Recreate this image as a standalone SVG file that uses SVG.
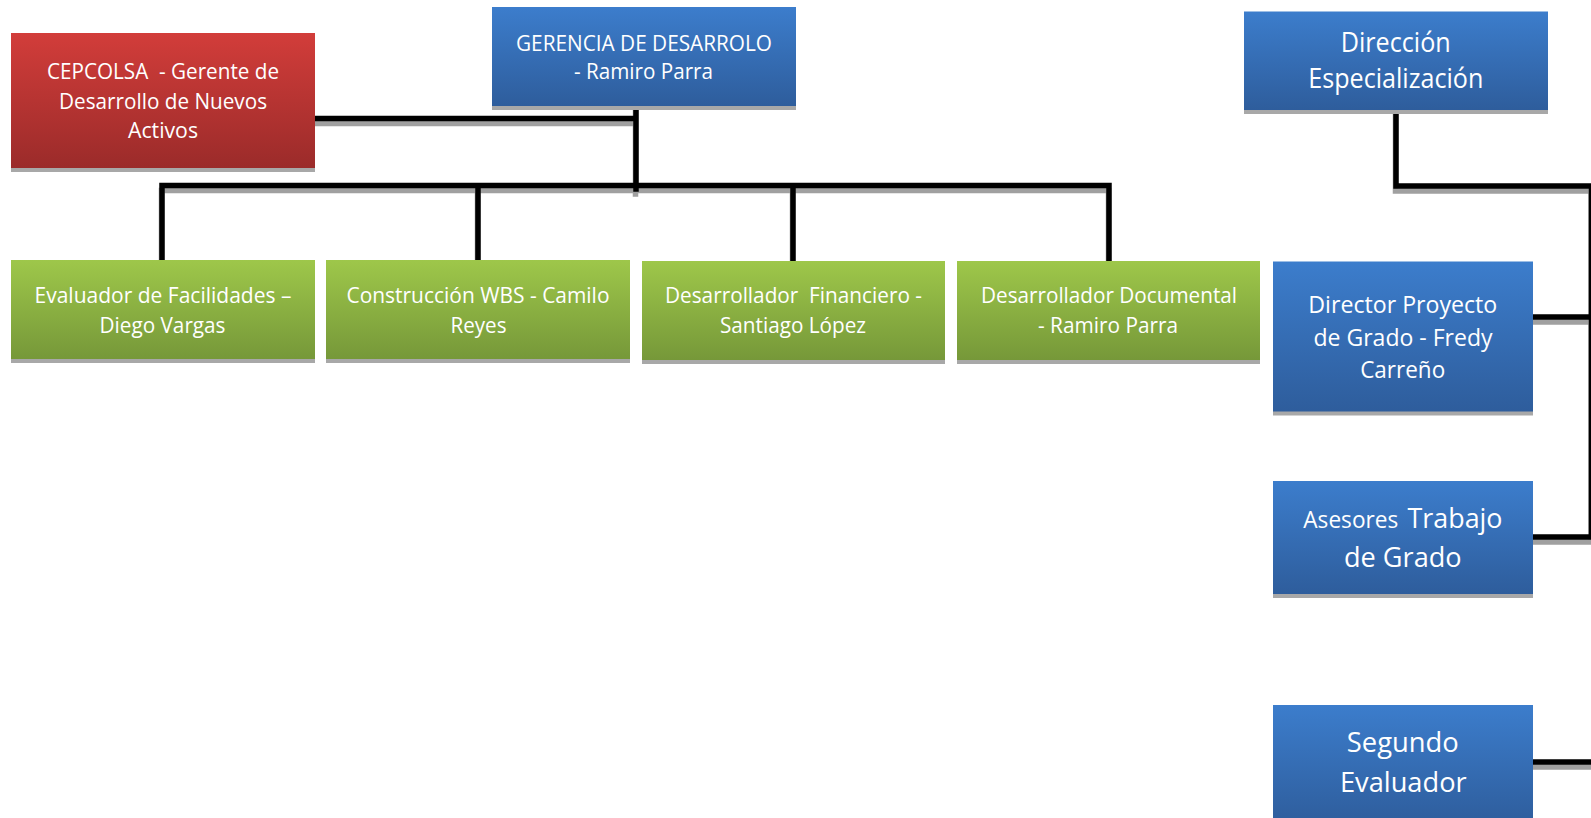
<svg xmlns="http://www.w3.org/2000/svg" width="1591" height="818" viewBox="0 0 1591 818">
<defs>
<linearGradient id="gBlue" x1="0" y1="0" x2="0" y2="1"><stop offset="0" stop-color="#3C7DCC"/><stop offset="1" stop-color="#2E5D9C"/></linearGradient>
<linearGradient id="gRed" x1="0" y1="0" x2="0" y2="1"><stop offset="0" stop-color="#D23D3A"/><stop offset="1" stop-color="#9B2B2A"/></linearGradient>
<linearGradient id="gGreen" x1="0" y1="0" x2="0" y2="1"><stop offset="0" stop-color="#9EC74A"/><stop offset="1" stop-color="#769839"/></linearGradient>
</defs>
<style>
.sh{fill:#A8A8A8}
.blue{fill:url(#gBlue)}
.red{fill:url(#gRed)}
.green{fill:url(#gGreen)}
text{font-family:"Open Sans","DejaVu Sans",sans-serif;fill:#FFFFFF;text-anchor:middle}
.s21{font-size:21px}
.s23{font-size:23px}
.s26{font-size:26.5px}
.ln{fill:none;stroke:#000;stroke-width:5.5;stroke-linecap:square}
.lsh{fill:none;stroke:#A0A0A0;stroke-width:5.5;stroke-linecap:square}
</style>
<rect width="1591" height="818" fill="#FFFFFF"/>
<g id="connectors">
<g transform="translate(-0.5,5)">
<path class="lsh" d="M316 118.5H636M636 107V189M162 185.5H1109M162 185.5V257M478 185.5V257M793 185.5V258M1109 185.5V258"/>
<path class="lsh" d="M1396 111V186H1593M1591.5 186V537M1534 317H1593M1534 537H1593M1534 762H1593"/>
</g>
<path class="ln" d="M316 118.5H636M636 107V189M162 185.5H1109M162 185.5V258M478 185.5V258M793 185.5V259M1109 185.5V259"/>
<path class="ln" d="M1396 111V186H1593M1591.5 186V537M1534 317H1593M1534 537H1593M1534 762H1593"/>
</g>
<g id="cepcolsa">
<rect class="sh" x="11" y="37" width="304" height="135"/>
<rect class="red" x="11" y="33" width="304" height="135"/>
<text class="s21" x="163" y="79" textLength="232" lengthAdjust="spacingAndGlyphs" xml:space="preserve">CEPCOLSA  - Gerente de</text>
<text class="s21" x="163" y="108.5" textLength="208" lengthAdjust="spacingAndGlyphs">Desarrollo de Nuevos</text>
<text class="s21" x="163" y="137.5" textLength="70" lengthAdjust="spacingAndGlyphs">Activos</text>
</g>
<g id="gerencia">
<rect class="sh" x="492" y="11" width="304" height="99"/>
<rect class="blue" x="492" y="7" width="304" height="99"/>
<text class="s21" x="644" y="50.5" textLength="256" lengthAdjust="spacingAndGlyphs">GERENCIA DE DESARROLO</text>
<text class="s21" x="643.5" y="79" textLength="139" lengthAdjust="spacingAndGlyphs">- Ramiro Parra</text>
</g>
<g id="evaluador">
<rect class="sh" x="11" y="264" width="304" height="99"/>
<rect class="green" x="11" y="260" width="304" height="99"/>
<text class="s21" x="163" y="302.5" textLength="257" lengthAdjust="spacingAndGlyphs">Evaluador de Facilidades –</text>
<text class="s21" x="162.5" y="332.5" textLength="126" lengthAdjust="spacingAndGlyphs">Diego Vargas</text>
</g>
<g id="construccion">
<rect class="sh" x="326" y="264" width="304" height="99"/>
<rect class="green" x="326" y="260" width="304" height="99"/>
<text class="s21" x="478" y="302.5" textLength="263" lengthAdjust="spacingAndGlyphs">Construcción WBS - Camilo</text>
<text class="s21" x="478.5" y="332.5" textLength="56" lengthAdjust="spacingAndGlyphs">Reyes</text>
</g>
<g id="financiero">
<rect class="sh" x="642" y="265" width="303" height="99"/>
<rect class="green" x="642" y="261" width="303" height="99"/>
<text class="s21" x="793.5" y="303" textLength="257" lengthAdjust="spacingAndGlyphs" xml:space="preserve">Desarrollador  Financiero -</text>
<text class="s21" x="793" y="333" textLength="146" lengthAdjust="spacingAndGlyphs">Santiago López</text>
</g>
<g id="documental">
<rect class="sh" x="957" y="265" width="303" height="99"/>
<rect class="green" x="957" y="261" width="303" height="99"/>
<text class="s21" x="1109" y="303" textLength="256" lengthAdjust="spacingAndGlyphs">Desarrollador Documental</text>
<text class="s21" x="1108" y="333" textLength="140" lengthAdjust="spacingAndGlyphs">- Ramiro Parra</text>
</g>
<g id="direccion">
<rect class="sh" x="1244" y="15.5" width="304" height="98.5"/>
<rect class="blue" x="1244" y="11.5" width="304" height="98.5"/>
<text class="s26" x="1395.7" y="52.3" textLength="110" lengthAdjust="spacingAndGlyphs">Dirección</text>
<text class="s26" x="1395.8" y="88.3" textLength="175" lengthAdjust="spacingAndGlyphs">Especialización</text>
</g>
<g id="director">
<rect class="sh" x="1273" y="265.5" width="260" height="150"/>
<rect class="blue" x="1273" y="261.5" width="260" height="150"/>
<text class="s23" x="1402.8" y="313.3" textLength="189" lengthAdjust="spacingAndGlyphs">Director Proyecto</text>
<text class="s23" x="1403" y="345.7" textLength="179" lengthAdjust="spacingAndGlyphs">de Grado - Fredy</text>
<text class="s23" x="1402.7" y="377.7" textLength="85" lengthAdjust="spacingAndGlyphs">Carreño</text>
</g>
<g id="asesores">
<rect class="sh" x="1273" y="485" width="260" height="113"/>
<rect class="blue" x="1273" y="481" width="260" height="113"/>
<text class="s23" x="1350.8" y="528.3" textLength="95" lengthAdjust="spacingAndGlyphs">Asesores</text>
<text class="s26" x="1455" y="528.3" textLength="95" lengthAdjust="spacingAndGlyphs">Trabajo</text>
<text class="s26" x="1402.8" y="567.3" textLength="117.7" lengthAdjust="spacingAndGlyphs">de Grado</text>
</g>
<g id="segundo">
<rect class="sh" x="1273" y="709" width="260" height="120"/>
<rect class="blue" x="1273" y="705" width="260" height="120"/>
<text class="s26" x="1402.8" y="752.3" textLength="112" lengthAdjust="spacingAndGlyphs">Segundo</text>
<text class="s26" x="1403.3" y="791.7" textLength="126.7" lengthAdjust="spacingAndGlyphs">Evaluador</text>
</g>
</svg>
